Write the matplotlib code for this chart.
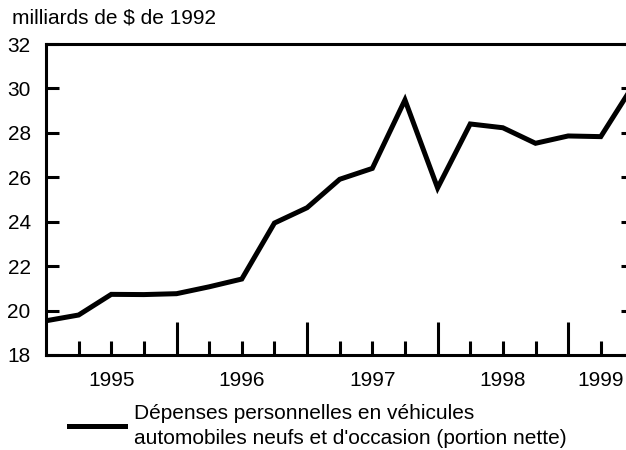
import matplotlib
matplotlib.use("Agg")
import matplotlib.pyplot as plt
import numpy as np

plt.rcParams['font.family'] = ['Liberation Sans', 'DejaVu Sans']

# Quarterly data, 1995Q1 onward (index 0 = start of 1995)
values = [19.54, 19.8, 20.73, 20.72, 20.76, 21.07, 21.42, 23.94, 24.63,
          25.91, 26.40, 29.48, 25.52, 28.40, 28.23, 27.53, 27.86, 27.83, 30.15]
year_labels = ["1995", "1996", "1997", "1998", "1999"]
year_label_pos = [2, 6, 10, 14, 17]
y_ticks = [18, 20, 22, 24, 26, 28, 30, 32]
title = "milliards de $ de 1992"
legend_label = "Dépenses personnelles en véhicules\nautomobiles neufs et d'occasion (portion nette)"

fig = plt.figure(figsize=(6.26, 4.5), dpi=100)
ax = fig.add_axes([46/626, 1-355/450, 587.4/626, 311/450])
x = np.arange(len(values))
line, = ax.plot(x, values, color='black', lw=3.6, solid_joinstyle='miter')
ax.set_xlim(0, 18)
ax.set_ylim(18, 32)

for s in ax.spines.values():
    s.set_linewidth(2.2)

ax.set_yticks(y_ticks)
ax.set_yticklabels([str(t) for t in y_ticks], fontsize=15)
ax.tick_params(axis='y', direction='in', length=9, width=2.2, pad=11,
               right=True, left=True)

major = [4, 8, 12, 16]
minor = [i for i in range(1, 18) if i not in major]
ax.set_xticks(major)
ax.set_xticklabels([])
ax.set_xticks(minor, minor=True)
ax.tick_params(axis='x', which='major', direction='in', length=24, width=2.2)
ax.tick_params(axis='x', which='minor', direction='in', length=10, width=2.2)
for p, lab in zip(year_label_pos, year_labels):
    ax.text(p, -0.083, lab, transform=ax.get_xaxis_transform(), ha='center', va='center', fontsize=15)

fig.text(12/626, 1-18/450, title, fontsize=15, ha='left', va='center')

leg = fig.legend([line], [legend_label], loc='center left',
                 bbox_to_anchor=(69/626, 1-426/450), frameon=False,
                 fontsize=15, handlelength=2.7, handletextpad=0.43,
                 borderaxespad=0, borderpad=0)
leg.get_lines()[0].set_linewidth(3.6)
leg.get_texts()[0].set_linespacing(1.45)

fig.savefig("out.png", dpi=100)
